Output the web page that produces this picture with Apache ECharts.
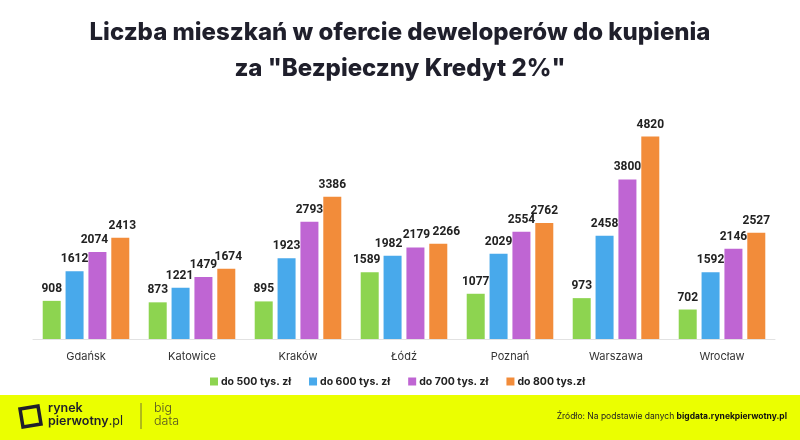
<!DOCTYPE html>
<html><head><meta charset="utf-8">
<script src="https://cdn.jsdelivr.net/npm/echarts@6/dist/echarts.min.js"></script>
<style>html,body{margin:0;padding:0;background:#fff}#c{width:800px;height:440px}</style>
</head><body><div id="c"></div>
<script>
const categories = ['Gdańsk','Katowice','Kraków','Łódź','Poznań','Warszawa','Wrocław'];
const seriesNames = ['do 500 tys. zł','do 600 tys. zł','do 700 tys. zł','do 800 tys.zł'];
const s500 = [908, 873, 895, 1589, 1077, 973, 702];
const s600 = [1612, 1221, 1923, 1982, 2029, 2458, 1592];
const s700 = [2074, 1479, 2793, 2179, 2554, 3800, 2146];
const s800 = [2413, 1674, 3386, 2266, 2762, 4820, 2527];
const colors = ['#8dd450','#48a9eb','#bf65d3','#f28c3a'];
const FONT = 'Inter, "Noto Sans", sans-serif';

// small horizontal nudges of crowded value labels, as in the original ("series-index": dx)
const labelNudge = {'2-0':-3,'3-0':2,'1-1':-1,'3-1':2,'0-3':-3,'1-3':-4,'2-3':1,'3-3':8};

const chart = echarts.init(document.getElementById('c'), null, {renderer:'canvas'});
const data = [s500, s600, s700, s800];
chart.setOption({
  animation:false,
  backgroundColor:'#ffffff',
  title:{
    text:'Liczba mieszkań w ofercie deweloperów do kupienia\nza "Bezpieczny Kredyt 2%"',
    left:'center', top:10,
    textStyle:{fontFamily:FONT, fontWeight:800, fontSize:24, color:'#1f1f2b', lineHeight:36}
  },
  legend:{
    data:seriesNames, top:371, left:205,
    itemWidth:8, itemHeight:8, itemGap:18, icon:'rect',
    textStyle:{fontFamily:FONT, fontWeight:700, fontSize:10.5, color:'#222', padding:[0,0,0,-2]}
  },
  grid:{left:33, right:25, top:129, height:210},
  xAxis:{
    type:'category', data:categories,
    axisLine:{lineStyle:{color:'#e2e2e2', width:1}},
    axisTick:{show:false},
    axisLabel:{fontFamily:FONT, fontSize:11, color:'#333', margin:12}
  },
  yAxis:{type:'value', min:0, max:5000, show:false, splitLine:{show:false}},
  series: data.map((d,i)=>({
    name:seriesNames[i], type:'bar', data:d,
    barWidth:18, barGap:'27%',
    itemStyle:{color:colors[i]},
    label:{show:true, position:'top', distance:6, fontFamily:'Roboto, sans-serif', fontWeight:700, fontSize:12, color:'#222'},
    labelLayout:function(p){
      const dx = labelNudge[p.seriesIndex + '-' + p.dataIndex] || 0;
      return {dx: dx, hideOverlap:false};
    }
  })),
  graphic:[
    {type:'rect', left:0, top:395, shape:{width:800, height:45}, style:{fill:'#ebff00'}},
    {type:'polygon', shape:{points:[[20,409],[38,406],[41,424],[23,427]]}, style:{fill:'none', stroke:'#1f1f2b', lineWidth:3.5}},
    {type:'text', left:48, top:402, style:{text:'rynek', fontFamily:FONT, fontWeight:600, fontSize:12.5, fill:'#1f1f2b'}},
    {type:'text', left:48, top:415, style:{rich:{a:{fontFamily:FONT, fontWeight:600, fontSize:12.5, fill:'#1f1f2b'}, b:{fontFamily:FONT, fontWeight:400, fontSize:12.5, fill:'#1f1f2b'}}, text:'{a|pierwotny}{b|.pl}'}},
    {type:'line', shape:{x1:141,y1:403,x2:141,y2:429}, style:{stroke:'#777733', lineWidth:1}},
    {type:'text', left:154, top:402, style:{text:'big', fontFamily:FONT, fontWeight:300, fontSize:12.5, fill:'#555522'}},
    {type:'text', left:154, top:415, style:{text:'data', fontFamily:FONT, fontWeight:300, fontSize:12.5, fill:'#555522'}},
    {type:'text', right:13, top:412, style:{rich:{a:{fontFamily:FONT, fontSize:8.5, fill:'#222'}, b:{fontFamily:FONT, fontWeight:700, fontSize:8.5, fill:'#111'}}, text:'{a|Źródło: Na podstawie danych }{b|bigdata.rynekpierwotny.pl}'}}
  ]
});
</script></body></html>
